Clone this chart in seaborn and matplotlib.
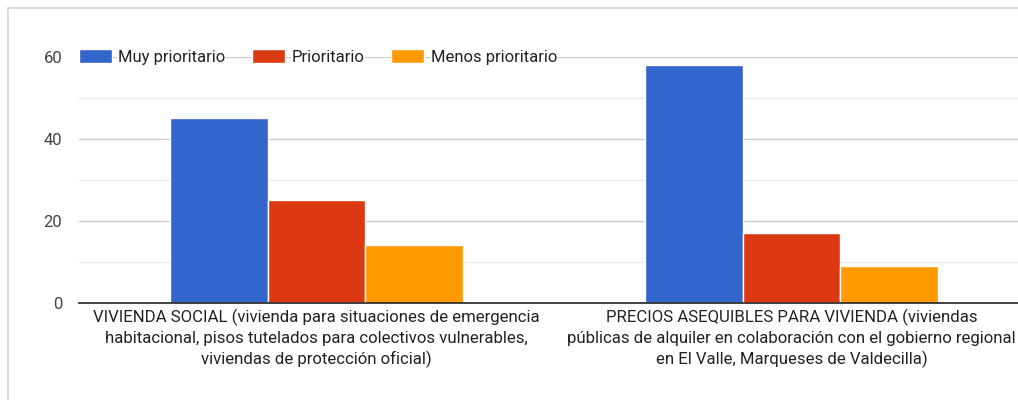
import pandas as pd
import matplotlib.pyplot as plt
import seaborn as sns
from matplotlib.lines import Line2D

# Datos del gráfico
categorias = [
    "VIVIENDA SOCIAL (vivienda para situaciones de emergencia\n"
    "habitacional, pisos tutelados para colectivos vulnerables,\n"
    "viviendas de protección oficial)",
    "PRECIOS ASEQUIBLES PARA VIVIENDA (viviendas\n"
    "públicas de alquiler en colaboración con el gobierno regional\n"
    "en El Valle, Marqueses de Valdecilla)",
]
niveles = ["Muy prioritario", "Prioritario", "Menos prioritario"]
muy_prioritario = [45, 58]
prioritario = [25, 17]
menos_prioritario = [14, 9]
y_ticks = [0, 20, 40, 60]

colores = ["#3366cc", "#dc3912", "#ff9900"]

sns.set_style("white")
plt.rcParams['font.family'] = ['Roboto', 'DejaVu Sans']

rows = []
for nivel, valores in zip(niveles, [muy_prioritario, prioritario, menos_prioritario]):
    for cat, v in zip(categorias, valores):
        rows.append({"categoria": cat, "nivel": nivel, "valor": v})
df = pd.DataFrame(rows)

W, H = 1018, 400
fig = plt.figure(figsize=(W / 100, H / 100), dpi=100)
ax = fig.add_axes([79 / W, 1 - 302.7 / H, (W - 79) / W, (302.7 - 57) / H])

sns.barplot(
    data=df, x="categoria", y="valor", hue="nivel",
    order=categorias, hue_order=niveles, palette=colores,
    width=0.615, edgecolor="white", linewidth=1, saturation=1, ax=ax,
)

ax.set_ylim(0, 60)
ax.set_xlim(-0.5, 1.5 - 11 / 475)
ax.set_yticks(y_ticks)
ax.set_yticks([10, 30, 50], minor=True)
ax.grid(axis="y", which="major", color="#cccccc", linewidth=1)
ax.grid(axis="y", which="minor", color="#ebebeb", linewidth=1)
ax.set_axisbelow(True)
for s in ["top", "right", "left"]:
    ax.spines[s].set_visible(False)
ax.spines["bottom"].set_color("#333333")
ax.spines["bottom"].set_linewidth(1.3)
ax.spines["bottom"].set_zorder(3)

ax.tick_params(axis="y", which="both", length=0, pad=12, labelsize=12, labelcolor="#444444")
ax.tick_params(axis="x", length=0, pad=4, labelsize=12.1, labelcolor="#222222")
for t in ax.get_xticklabels():
    t.set_linespacing(1.42)
ax.set_xlabel("")
ax.set_ylabel("")

leg = ax.legend(
    loc="center left", bbox_to_anchor=(0, 1.0), ncol=3, frameon=False,
    borderaxespad=0, borderpad=0, fontsize=12,
    handlelength=1.95, handleheight=0.85, handletextpad=0.4, columnspacing=1.62,
)
for t in leg.get_texts():
    t.set_color("#222222")
    t.set_bbox(dict(facecolor="white", edgecolor="none", pad=0.6))

# Marco gris alrededor del gráfico
fig.add_artist(Line2D([8 / W, 1], [1 - 8 / H, 1 - 8 / H], color="#d6d6d6", lw=1.2))
fig.add_artist(Line2D([8 / W, 8 / W], [0, 1 - 8 / H], color="#d6d6d6", lw=1.2))

fig.savefig("out.png", dpi=100, facecolor="white")
